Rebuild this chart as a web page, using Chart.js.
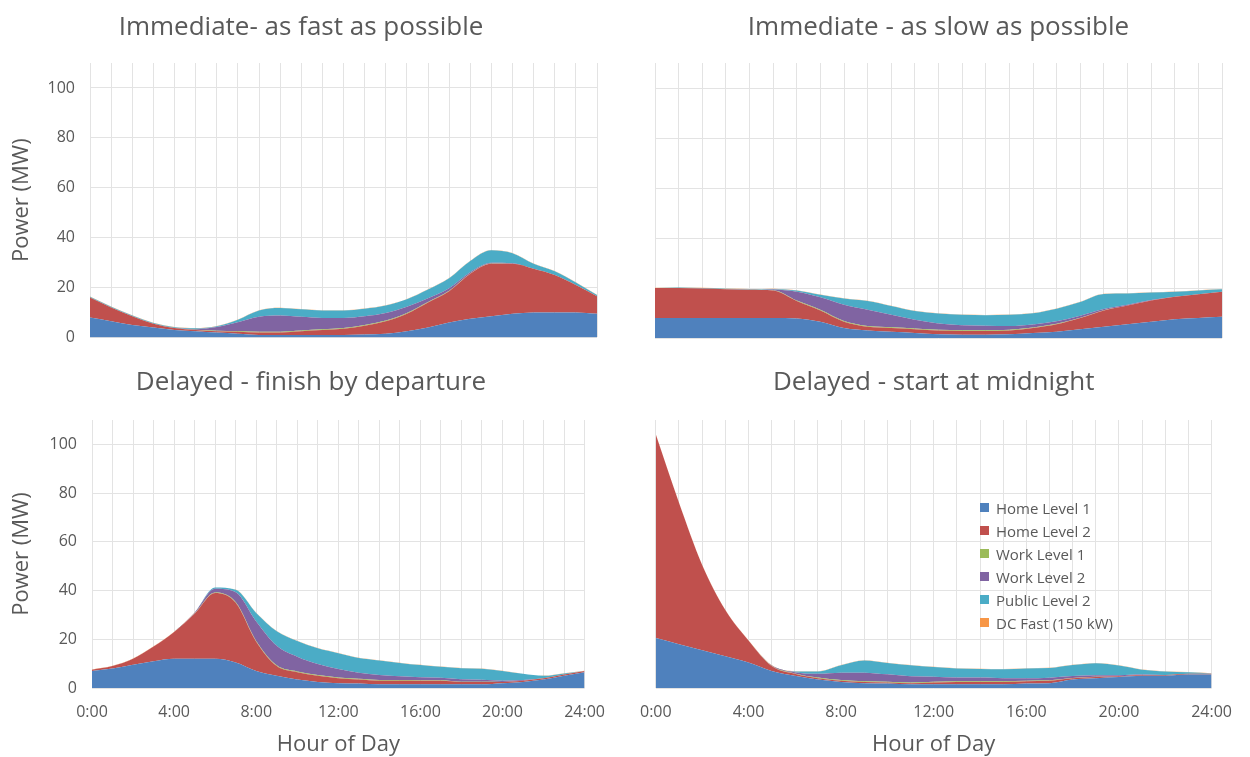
<!DOCTYPE html>
<html>
<head>
<meta charset="utf-8">
<script src="https://cdn.jsdelivr.net/npm/chart.js@4.4.1/dist/chart.umd.min.js"></script>
<style>
  html, body { margin: 0; padding: 0; background: #fff; }
  body { width: 1250px; height: 757px; position: relative; overflow: hidden; font-family: "Open Sans", sans-serif; }
  canvas { position: absolute; }
  #legend { position: absolute; left: 980px; top: 496px; font: 15px "Open Sans", sans-serif; color: #595959; }
  #legend .row { height: 23px; display: flex; align-items: center; white-space: nowrap; }
  #legend .sw { width: 9px; height: 9px; margin-right: 7px; display: inline-block; }
</style>
</head>
<body>
<canvas id="fast" width="622" height="362" style="left:0;top:0"></canvas>
<canvas id="slow" width="622" height="350" style="left:625px;top:0"></canvas>
<canvas id="departure" width="620" height="402" style="left:0;top:355px"></canvas>
<canvas id="midnight" width="622" height="402" style="left:625px;top:355px"></canvas>
<div id="legend"></div>
<script>
// Hour-of-day categories (x axis)
const hourLabels = ['0:00','1:00','2:00','3:00','4:00','5:00','6:00','7:00','8:00','9:00','10:00','11:00','12:00',
                    '13:00','14:00','15:00','16:00','17:00','18:00','19:00','20:00','21:00','22:00','23:00','24:00'];
const yTicks = [0, 20, 40, 60, 80, 100];

const seriesNames  = ['Home Level 1', 'Home Level 2', 'Work Level 1', 'Work Level 2', 'Public Level 2', 'DC Fast (150 kW)'];
const seriesColors = ['#4F81BD', '#C0504D', '#9BBB59', '#8064A2', '#4BACC6', '#F79646'];

// Immediate - as fast as possible (MW)
const fastHomeL1   = [8,6.5,5,4,3,2.5,2,1.5,1,1,1,1,1,1.2,1.5,2.5,4,6,7.5,8.5,9.5,10,10,10,9.5];
const fastHomeL2   = [8,5.5,3.5,1.5,0.8,0.5,0.5,0.8,1,1,1.5,2,2.5,3.5,5,7,10,12.5,18,21,20,17.5,15,11,7];
const fastWorkL1   = [0,0,0,0,0,0.1,0.2,0.3,0.3,0.3,0.3,0.3,0.3,0.3,0.3,0.3,0.2,0.2,0.1,0.1,0,0,0,0,0];
const fastWorkL2   = [0,0,0,0,0,0.3,1.5,3.5,6,6.5,5.5,4.5,4,3.5,3,2.5,1.5,1,0.5,0.3,0.2,0,0,0,0];
const fastPublicL2 = [0.3,0.3,0.3,0.3,0.3,0.3,0.3,1,2.5,3,3,3,3,3,3,3,3.5,4,4.5,5,4,2,1.5,1,0.5];
const fastDcFast   = [0.1,0.1,0.1,0.1,0.1,0.1,0.1,0.1,0.1,0.1,0.1,0.1,0.1,0.1,0.1,0.1,0.1,0.1,0.1,0.1,0.1,0.1,0.1,0.1,0.1];

// Immediate - as slow as possible (MW)
const slowHomeL1   = [8,8,8,8,8,8,7.8,6.5,4,3,2.5,2,1.5,1.3,1.3,1.5,2,2.5,3.5,4.5,5.5,6.5,7.5,8,8.5];
const slowHomeL2   = [12,12,11.8,11.5,11.3,11,7,4.5,2.5,1.5,1.5,1.5,1.5,1.5,1.5,1.5,2,3,4.5,6.5,7.5,8.5,9,9.5,10];
const slowWorkL1   = [0,0,0,0,0,0.1,0.2,0.3,0.3,0.3,0.3,0.3,0.3,0.3,0.3,0.3,0.2,0.2,0.1,0.1,0,0,0,0,0];
const slowWorkL2   = [0,0,0,0,0,0.3,3.5,5,6.5,6.5,5,3.5,2.5,2,1.8,1.5,1.2,1,0.8,0.5,0.3,0.2,0,0,0];
const slowPublicL2 = [0,0.2,0.2,0.2,0.2,0.2,0.5,1,2.5,3.5,3.5,3.5,4,4.2,4.2,4.5,4.5,5,5.5,6,4.5,3,2,1.5,1];
const slowDcFast   = [0.1,0.1,0.1,0.1,0.1,0.1,0.1,0.1,0.1,0.1,0.1,0.1,0.1,0.1,0.1,0.1,0.1,0.1,0.1,0.1,0.1,0.1,0.1,0.1,0.1];

// Delayed - finish by departure (MW)
const depHomeL1    = [7,8,9.5,11,12,12,12,10.5,7,5,3.5,2.5,2,1.8,1.5,1.5,1.5,1.5,1.5,1.5,2,2.5,3.5,5,6.5];
const depHomeL2    = [0.5,1,2.5,6,11,18.5,27,24.5,12,4,3,2.5,2,1.7,1.5,1.5,1.5,1.5,1,1,0.5,0.5,0.5,0.5,0.5];
const depWorkL1    = [0,0,0,0,0,0.1,0.2,0.3,0.3,0.3,0.3,0.3,0.3,0.3,0.3,0.3,0.2,0.2,0.1,0.1,0,0,0,0,0];
const depWorkL2    = [0,0,0,0,0,0.3,1.5,4,8,8,6,4.5,3.5,2.5,2,1.5,1.2,1,1,0.8,0.5,0.3,0,0,0];
const depPublicL2  = [0,0,0,0,0,0,0.5,1,3.5,6,6.5,6.5,6.5,6,6,5.5,5,4.5,4.5,4.5,4,2.5,1,0.5,0];
const depDcFast    = [0.1,0.1,0.1,0.1,0.1,0.1,0.1,0.1,0.1,0.1,0.1,0.1,0.1,0.1,0.1,0.1,0.1,0.1,0.1,0.1,0.1,0.1,0.1,0.1,0.1];

// Delayed - start at midnight (MW)
const midHomeL1    = [20.5,18,15.5,13,10.5,7,5,3.5,2.5,2,1.8,1.5,1.5,1.5,1.5,1.5,1.8,2,3.5,4,4.5,5,5,5.5,5.5];
const midHomeL2    = [83.5,58,35,19,9,2,0.8,0.5,0.5,0.5,0.5,0.5,0.8,1,1,1,1,1,0.5,0.5,0.3,0.3,0.3,0.3,0.3];
const midWorkL1    = [0,0,0,0,0,0.1,0.2,0.3,0.3,0.3,0.3,0.3,0.3,0.3,0.3,0.3,0.2,0.2,0.1,0.1,0,0,0,0,0];
const midWorkL2    = [0,0,0,0,0,0.2,0.5,1.5,3,3.5,3,2.5,2,1.5,1.5,1.2,1,1,0.8,0.6,0.4,0.2,0,0,0];
const midPublicL2  = [0,0,0,0,0,0,0.3,1,3,5,4.7,4.5,4,3.7,3.5,3.7,4,4,4.5,5,4,2,1.5,0.7,0.2];
const midDcFast    = [0.1,0.1,0.1,0.1,0.1,0.1,0.1,0.1,0.1,0.1,0.1,0.1,0.1,0.1,0.1,0.1,0.1,0.1,0.1,0.1,0.1,0.1,0.1,0.1,0.1];

const FONT = '"Open Sans", sans-serif';
const TEXT = '#595959';
const GRID = '#e3e3e3';

function makePanel(id, title, series, cfg) {
  return new Chart(document.getElementById(id), {
    type: 'line',
    data: {
      labels: hourLabels,
      datasets: series.map((vals, i) => ({
        label: seriesNames[i],
        data: vals,
        backgroundColor: seriesColors[i],
        borderColor: seriesColors[i],
        borderWidth: 0,
        pointRadius: 0,
        fill: i === 0 ? 'origin' : '-1',
        cubicInterpolationMode: 'monotone'
      }))
    },
    options: {
      responsive: false,
      animation: false,
      devicePixelRatio: 1,
      layout: { padding: { left: cfg.padLeft, right: 25, top: 0, bottom: 0 } },
      plugins: {
        legend: { display: false },
        tooltip: { enabled: false },
        title: {
          display: true, text: title, fullSize: cfg.titleFull, color: TEXT,
          font: { family: FONT, size: 26, weight: 'normal' },
          padding: { top: 12.4, bottom: cfg.titleGap }
        }
      },
      scales: {
        x: {
          grid: { color: GRID, drawTicks: false },
          border: { display: false },
          ticks: {
            display: cfg.showX, autoSkip: false, maxRotation: 0, padding: 15,
            color: TEXT, font: { family: FONT, size: 16 },
            callback: (v, i) => (i % 4 === 0 ? hourLabels[i] : '')
          },
          title: {
            display: cfg.showX, text: 'Hour of Day', color: TEXT,
            font: { family: FONT, size: 22 }, padding: { top: 0, bottom: -1 }
          },
          afterFit: s => { s.height = cfg.xHeight; }
        },
        y: {
          stacked: true, min: 0, max: 110,
          grid: { color: GRID, drawTicks: false },
          border: { display: false },
          afterBuildTicks: s => { s.ticks = yTicks.map(v => ({ value: v })); },
          ticks: { display: cfg.showY, padding: 15, color: TEXT, font: { family: FONT, size: 16 } },
          title: {
            display: cfg.showY, text: 'Power (MW)', color: TEXT,
            font: { family: FONT, size: 22 }, padding: { top: cfg.yTitlePad, bottom: 0 }
          },
          afterFit: s => { s.width = cfg.yWidth; }
        }
      }
    }
  });
}

makePanel('fast', 'Immediate- as fast as possible',
  [fastHomeL1, fastHomeL2, fastWorkL1, fastWorkL2, fastPublicL2, fastDcFast],
  { padLeft: 5, yWidth: 85, xHeight: 12, showX: false, showY: true, titleFull: true, titleGap: 19.4, yTitlePad: 3.8 });

makePanel('slow', 'Immediate - as slow as possible',
  [slowHomeL1, slowHomeL2, slowWorkL1, slowWorkL2, slowPublicL2, slowDcFast],
  { padLeft: 0, yWidth: 30, xHeight: 12, showX: false, showY: false, titleFull: false, titleGap: 19.4, yTitlePad: 0 });

makePanel('departure', 'Delayed - finish by departure',
  [depHomeL1, depHomeL2, depWorkL1, depWorkL2, depPublicL2, depDcFast],
  { padLeft: 27, yWidth: 65, xHeight: 69, showX: true, showY: true, titleFull: true, titleGap: 21.4, yTitlePad: -18.2 });

makePanel('midnight', 'Delayed - start at midnight',
  [midHomeL1, midHomeL2, midWorkL1, midWorkL2, midPublicL2, midDcFast],
  { padLeft: 0, yWidth: 30, xHeight: 69, showX: true, showY: false, titleFull: false, titleGap: 21.4, yTitlePad: 0 });

// Legend for the series, placed inside the last panel
const legend = document.getElementById('legend');
seriesNames.forEach((name, i) => {
  const row = document.createElement('div');
  row.className = 'row';
  const sw = document.createElement('span');
  sw.className = 'sw';
  sw.style.background = seriesColors[i];
  row.appendChild(sw);
  row.appendChild(document.createTextNode(name));
  legend.appendChild(row);
});
</script>
</body>
</html>
